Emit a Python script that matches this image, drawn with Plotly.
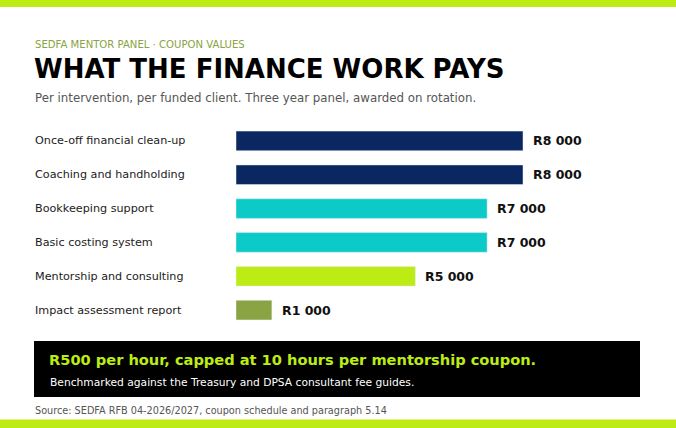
import plotly.graph_objects as go

# coupon schedule
services = ["Once-off financial clean-up", "Coaching and handholding", "Bookkeeping support",
            "Basic costing system", "Mentorship and consulting", "Impact assessment report"]
coupon_values = [8000, 8000, 7000, 7000, 5000, 1000]
value_labels = ["R8 000", "R8 000", "R7 000", "R7 000", "R5 000", "R1 000"]
bar_colors = ["#0b2762", "#0b2762", "#0bcac7", "#0bcac7", "#bdec14", "#8aa343"]

LIME = "#bdec14"
FONT = "DejaVu Sans"

W, H = 676, 428
L, R, T, B = 236, 80, 124, 101
plot_w = W - L - R
plot_h = H - T - B
x_max = 8000 * plot_w / 287.0


def fx(px):
    return (px - L) / plot_w


def fy(py):
    return (H - B - py) / plot_h


fig = go.Figure()
fig.add_trace(go.Bar(y=services, x=coupon_values, orientation="h",
                     marker=dict(color=bar_colors), width=0.58, hoverinfo="skip"))

# value labels at end of bars, service names on the left
for s, v, lab in zip(services, coupon_values, value_labels):
    fig.add_annotation(x=v, y=s, xref="x", yref="y", text="<b>%s</b>" % lab, showarrow=False,
                       xanchor="left", xshift=8, font=dict(family=FONT, size=12.5, color="#111111"))
    fig.add_annotation(x=fx(33), y=s, xref="paper", yref="y", text=s, showarrow=False,
                       xanchor="left", font=dict(family=FONT, size=11.2, color="#222222"))

texts = [
    ("SEDFA MENTOR PANEL · COUPON VALUES", 33, 45, 10.1, "#8aa343", False),
    ("WHAT THE FINANCE WORK PAYS", 32, 69, 26, "#000000", True),
    ("Per intervention, per funded client. Three year panel, awarded on rotation.", 33, 97.5, 11.8, "#555555", False),
    ("R500 per hour, capped at 10 hours per mentorship coupon.", 47, 359.5, 14.6, LIME, True),
    ("Benchmarked against the Treasury and DPSA consultant fee guides.", 48, 382, 10.7, "#ffffff", False),
    ("Source: SEDFA RFB 04-2026/2027, coupon schedule and paragraph 5.14", 33, 410.5, 9.7, "#555555", False),
]
for t, x, y, size, col, bold in texts:
    fig.add_annotation(x=fx(x), y=fy(y), xref="paper", yref="paper",
                       text="<b>%s</b>" % t if bold else t, showarrow=False,
                       xanchor="left", yanchor="middle",
                       font=dict(family=FONT, size=size, color=col))

# decorative bars and callout box
fig.add_shape(type="rect", xref="paper", yref="paper", x0=fx(0), x1=fx(W), y0=fy(0), y1=fy(7),
              fillcolor=LIME, line_width=0, layer="below")
fig.add_shape(type="rect", xref="paper", yref="paper", x0=fx(0), x1=fx(W), y0=fy(419.5), y1=fy(H),
              fillcolor=LIME, line_width=0, layer="below")
fig.add_shape(type="rect", xref="paper", yref="paper", x0=fx(34), x1=fx(640), y0=fy(341), y1=fy(397),
              fillcolor="#000000", line_width=0, layer="below")

fig.update_layout(
    width=W, height=H,
    margin=dict(l=L, r=R, t=T, b=B),
    paper_bgcolor="#ffffff", plot_bgcolor="#ffffff",
    showlegend=False,
    font=dict(family=FONT),
    xaxis=dict(range=[0, x_max], visible=False, fixedrange=True),
    yaxis=dict(autorange="reversed", showticklabels=False, showgrid=False, zeroline=False, fixedrange=True),
)

fig.write_html("out.html", config={"displayModeBar": False},
               post_script="document.body.style.margin='0';")
